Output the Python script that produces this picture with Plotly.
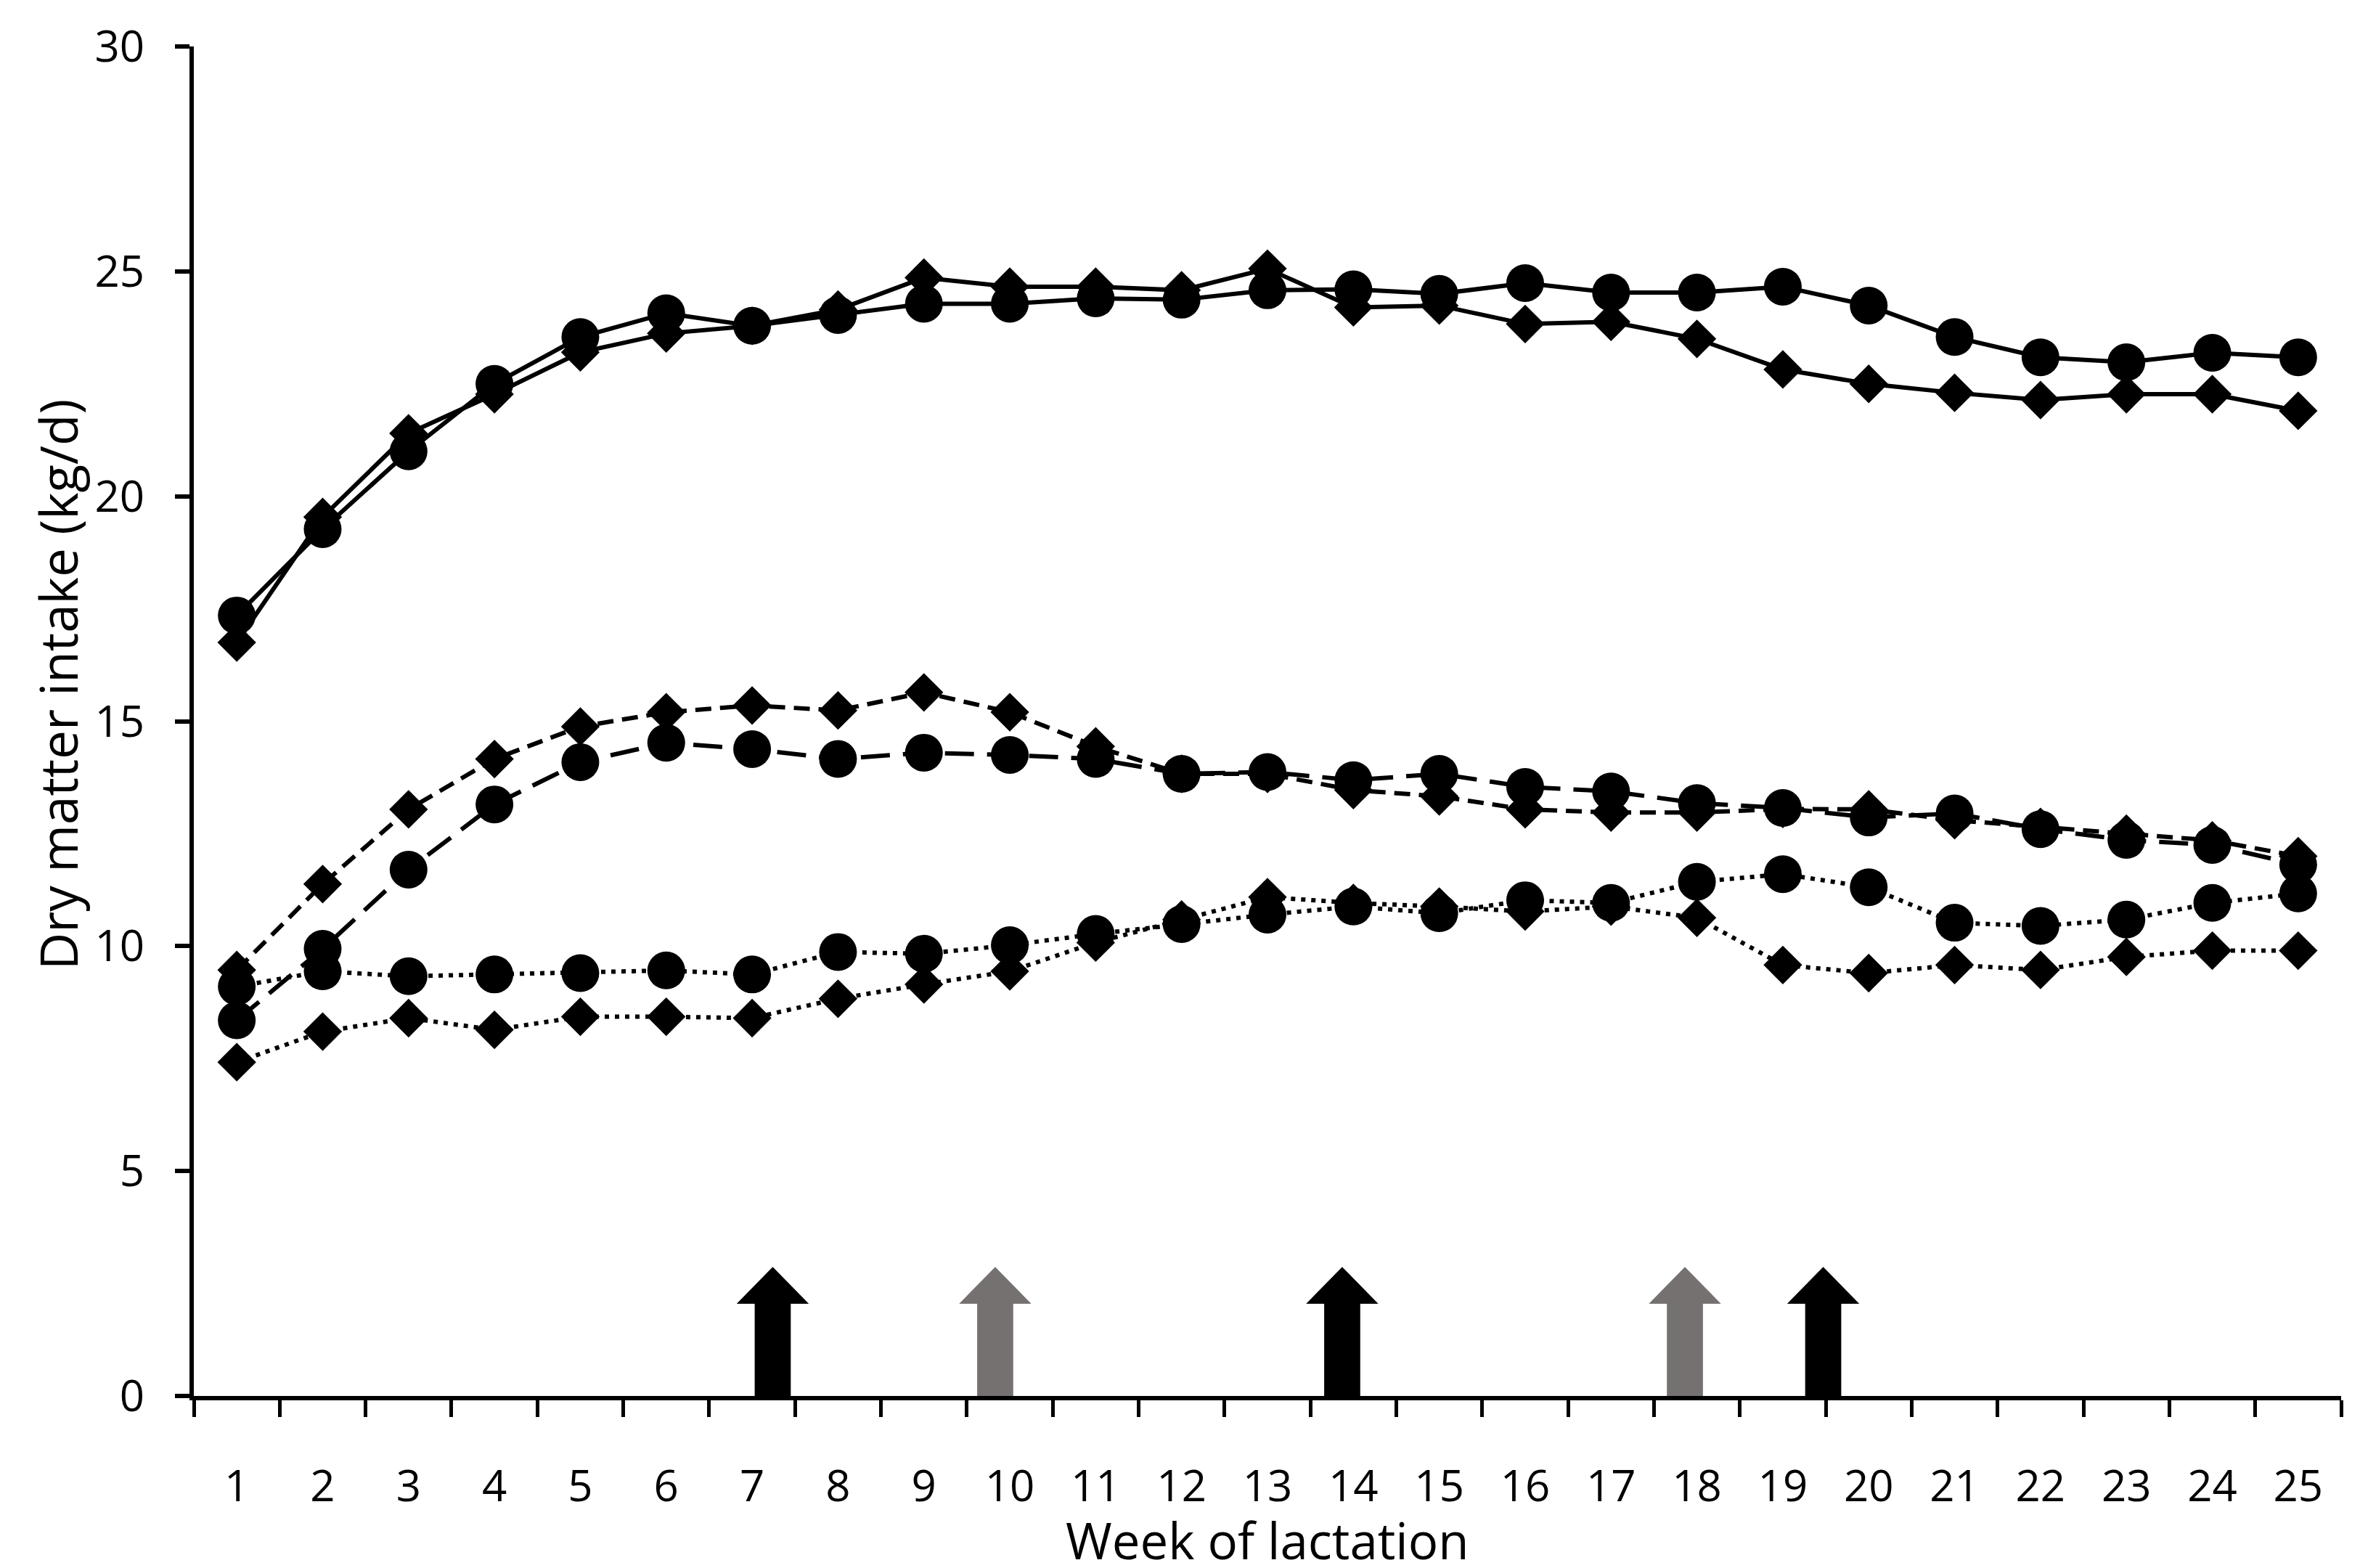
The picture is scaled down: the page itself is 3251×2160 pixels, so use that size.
import plotly.graph_objects as go

# weeks of lactation
weeks = list(range(1, 26))

# solid lines (top group)
solid_circle = [17.35, 19.27, 21.0, 22.5, 23.54, 24.07, 23.79, 24.03, 24.28, 24.28, 24.4, 24.37, 24.58,
                24.6, 24.5, 24.74, 24.53, 24.53, 24.66, 24.24, 23.54, 23.09, 22.98, 23.19, 23.09]
solid_diamond = [16.75, 19.54, 21.4, 22.27, 23.2, 23.62, 23.79, 24.15, 24.86, 24.66, 24.66, 24.58, 25.06,
                 24.2, 24.24, 23.83, 23.88, 23.5, 22.82, 22.5, 22.3, 22.14, 22.27, 22.27, 21.9]

# dashed lines (middle group)
dashed_circle = [8.35, 9.94, 11.7, 13.15, 14.09, 14.52, 14.38, 14.16, 14.3, 14.25, 14.16, 13.83, 13.87,
                 13.69, 13.83, 13.54, 13.44, 13.18, 13.07, 12.86, 12.95, 12.6, 12.36, 12.25, 11.81]
dashed_diamond = [9.47, 11.38, 13.04, 14.16, 14.88, 15.2, 15.35, 15.24, 15.64, 15.2, 14.44, 13.83, 13.83,
                  13.47, 13.33, 13.04, 12.97, 12.97, 13.05, 13.04, 12.8, 12.65, 12.5, 12.35, 12.0]

# dotted lines (bottom group)
dotted_circle = [9.1, 9.44, 9.33, 9.37, 9.4, 9.46, 9.37, 9.87, 9.83, 10.02, 10.27, 10.49, 10.7,
                 10.88, 10.73, 11.02, 10.96, 11.43, 11.6, 11.31, 10.52, 10.45, 10.59, 10.96, 11.17]
dotted_diamond = [7.42, 8.1, 8.4, 8.14, 8.43, 8.43, 8.4, 8.83, 9.15, 9.44, 10.08, 10.59, 11.09,
                  10.96, 10.88, 10.77, 10.88, 10.63, 9.58, 9.4, 9.58, 9.47, 9.76, 9.9, 9.9]

# event arrows along the x axis
arrow_weeks = [7.24, 9.83, 13.87, 17.86, 19.47]
arrow_colors = ["black", "#767171", "black", "#767171", "black"]
arrow_tip = 2.87

fig = go.Figure()

# arrows: shaft + head as one filled outline
head_base = 2.05
head_half = 0.42
shaft_half = 0.21
for wk, col in zip(arrow_weeks, arrow_colors):
    xs = [wk - shaft_half, wk - shaft_half, wk - head_half, wk, wk + head_half, wk + shaft_half, wk + shaft_half]
    ys = [0, head_base, head_base, arrow_tip, head_base, head_base, 0]
    fig.add_trace(go.Scatter(x=xs, y=ys, mode="lines", fill="toself", fillcolor=col,
                             line=dict(width=0, color=col), hoverinfo="skip", showlegend=False))

series = [
    (dotted_diamond, "diamond", "6px,8px"),
    (dotted_circle, "circle", "6px,8px"),
    (dashed_diamond, "diamond", "22px,12px"),
    (dashed_circle, "circle", "40px,18px"),
    (solid_diamond, "diamond", "solid"),
    (solid_circle, "circle", "solid"),
]
for vals, sym, dash in series:
    fig.add_trace(go.Scatter(
        x=weeks, y=vals, mode="lines+markers",
        line=dict(color="black", width=6, dash=dash),
        marker=dict(symbol=sym, color="black", size=41 if sym == "diamond" else 52, line=dict(width=0)),
        showlegend=False,
    ))

font_family = "Open Sans"
fig.update_layout(
    width=3251, height=2160,
    margin=dict(l=259, r=34, t=56, b=245),
    paper_bgcolor="white", plot_bgcolor="white",
    font=dict(family=font_family, color="black", size=60),
    showlegend=False,
)
fig.update_xaxes(
    automargin=False,
    range=[0.5, 25.5], tickmode="array", tickvals=weeks, ticktext=[str(w) for w in weeks],
    ticks="outside", ticklen=25, tickcolor="rgba(0,0,0,0)", ticklabelstandoff=42,
    minor=dict(tickmode="array", tickvals=[w - 0.5 for w in weeks] + [25.5], ticks="outside",
               ticklen=23, tickwidth=5, tickcolor="black", showgrid=False),
    showline=True, linewidth=6, linecolor="black", showgrid=False, zeroline=False,
    tickfont=dict(size=60),
)
fig.update_yaxes(
    automargin=False,
    range=[0, 30], tickmode="linear", tick0=0, dtick=5,
    ticks="outside", ticklen=20, tickwidth=6, tickcolor="black", ticklabelstandoff=30,
    showline=True, linewidth=6, linecolor="black", showgrid=False, zeroline=False,
    tickfont=dict(size=60),
)

# axis titles placed as in the original figure
fig.add_annotation(
    text="Week of lactation", xref="paper", yref="paper", x=0.5, y=0,
    xanchor="center", yanchor="middle", yshift=-198, showarrow=False,
    font=dict(size=69, family=font_family, color="black"),
)
fig.add_annotation(
    text="Dry matter intake (kg/d)", xref="paper", yref="paper", x=0, y=0.527,
    xanchor="center", yanchor="middle", xshift=-188, textangle=-90, showarrow=False,
    font=dict(size=71, family=font_family, color="black"),
)

fig.write_html("out.html")
